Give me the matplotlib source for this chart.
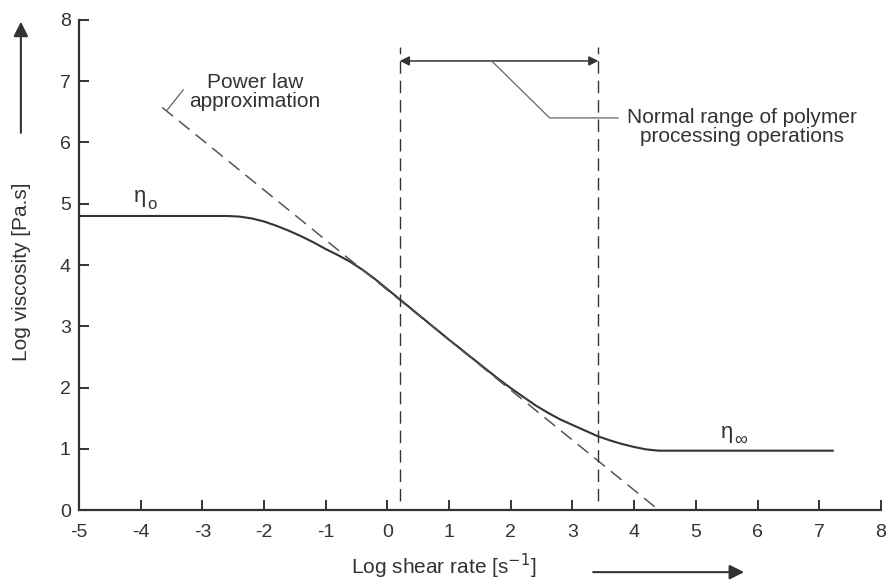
import matplotlib
matplotlib.use("Agg")
import matplotlib.pyplot as plt
from matplotlib.patches import FancyArrowPatch

plt.rcParams["font.family"] = ["Liberation Sans", "DejaVu Sans"]
plt.rcParams["axes.unicode_minus"] = False

# Data
shear_x = [-5.0, -2.6, -2.4, -2.2, -2.0, -1.8, -1.6, -1.4, -1.2, -1.0, -0.8, -0.6, -0.4,
           -0.2, 0.2, 0.6, 1.0, 1.4, 1.8, 2.0, 2.2, 2.4, 2.6, 2.8, 3.0, 3.2, 3.4, 3.6,
           3.8, 4.0, 4.2, 4.4, 7.22]
visc_y = [4.8, 4.8, 4.79, 4.76, 4.71, 4.64, 4.56, 4.47, 4.37, 4.26, 4.16, 4.05, 3.92,
          3.77, 3.44, 3.11, 2.78, 2.46, 2.14, 1.99, 1.85, 1.71, 1.59, 1.48, 1.39, 1.3,
          1.21, 1.14, 1.08, 1.03, 0.99, 0.97, 0.97]
power_x = [-3.65, 4.4]
power_y = [6.57, 0.0]
range_x = [0.2, 3.42]
xticks = list(range(-5, 9))
yticks = list(range(0, 9))

ink = "#333333"
fig = plt.figure(figsize=(8.88, 5.85), dpi=100)
ax = fig.add_axes([0.089, 0.128, 0.903, 0.838])
ax.set_xlim(-5, 8)
ax.set_ylim(0, 8)
for s in ["top", "right"]:
    ax.spines[s].set_visible(False)
for s in ["left", "bottom"]:
    ax.spines[s].set_color(ink)
    ax.spines[s].set_linewidth(1.6)
ax.set_xticks(xticks)
ax.set_yticks(yticks)
ax.tick_params(direction="in", length=7, width=1.4, color=ink, labelcolor=ink,
               labelsize=14)
ax.tick_params(axis="x", pad=10)
ax.tick_params(axis="y", pad=6)

ax.plot(shear_x, visc_y, color=ink, lw=1.5, clip_on=False)
ax.plot(power_x, power_y, color="#555555", lw=1.1, dashes=(9, 5), clip_on=False)
for xv in range_x:
    ax.plot([xv, xv], [0.15, 7.55], color=ink, lw=1.0, dashes=(9, 5), clip_on=False)

arr = FancyArrowPatch((range_x[0], 7.33), (range_x[1], 7.33), arrowstyle="<|-|>",
                      mutation_scale=14, color=ink, lw=1.1, shrinkA=0, shrinkB=0)
ax.add_patch(arr)
ax.plot([1.69, 2.63, 3.74], [7.33, 6.4, 6.4], color="#666666", lw=0.9)
ax.text(5.75, 6.25, "Normal range of polymer\nprocessing operations", ha="center",
        va="center", fontsize=15, color=ink, linespacing=1.0)

ax.plot([-3.57, -3.31], [6.53, 6.86], color="#666666", lw=0.9)
ax.text(-2.15, 6.82, "Power law\napproximation", ha="center", va="center",
        fontsize=15, color=ink, linespacing=1.0)

ax.text(-4.01, 5.12, "η", ha="center", va="center", fontsize=16, color=ink)
ax.text(-3.82, 4.99, "o", ha="center", va="center", fontsize=12, color=ink)
ax.text(5.5, 1.26, "η", ha="center", va="center", fontsize=16, color=ink)
ax.text(5.72, 1.14, "∞", ha="center", va="center", fontsize=13, color=ink)

fig.text(0.024, 0.535, "Log viscosity [Pa.s]", rotation=90, ha="center", va="center",
         fontsize=15, color=ink)
fig.text(0.5, 0.031, r"Log shear rate [s$^{-1}$]", ha="center", va="center",
         fontsize=15, color=ink)
fig.add_artist(FancyArrowPatch((0.0235, 0.773), (0.0235, 0.963), transform=fig.transFigure,
                               arrowstyle="-|>", mutation_scale=22, color=ink, lw=1.5,
                               shrinkA=0, shrinkB=0))
fig.add_artist(FancyArrowPatch((0.668, 0.022), (0.838, 0.022), transform=fig.transFigure,
                               arrowstyle="-|>", mutation_scale=22, color=ink, lw=1.5,
                               shrinkA=0, shrinkB=0))

fig.savefig("out.png", dpi=100)
